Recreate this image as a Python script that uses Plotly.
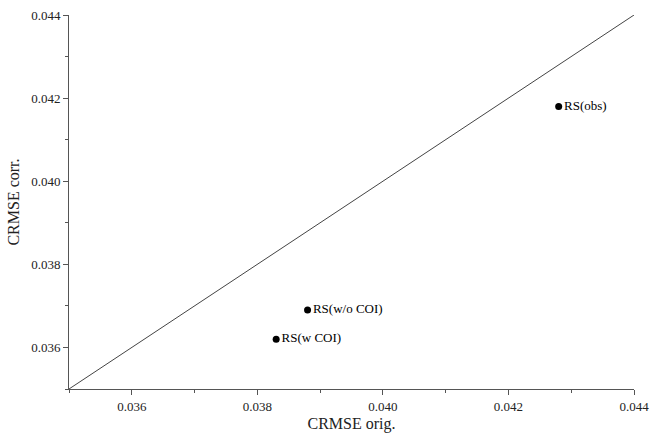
import plotly.graph_objects as go

# CRMSE of each run: original vs corrected
names = ["RS(obs)", "RS(w/o COI)", "RS(w COI)"]
crmse_orig = [0.0428, 0.0388, 0.0383]
crmse_corr = [0.0418, 0.0369, 0.0362]

# 1:1 reference line spanning the axis range
ref_line = [0.035, 0.044]
tick_vals = [0.036, 0.038, 0.040, 0.042, 0.044]
tick_text = ["0.036", "0.038", "0.040", "0.042", "0.044"]

font_family = "Liberation Serif, Times New Roman, serif"

fig = go.Figure()
fig.add_trace(go.Scatter(
    x=ref_line, y=ref_line, mode="lines",
    line=dict(color="#444444", width=1), hoverinfo="skip", showlegend=False,
))
fig.add_trace(go.Scatter(
    x=crmse_orig, y=crmse_corr, mode="markers+text",
    marker=dict(color="black", size=7),
    text=names, textposition="middle right",
    textfont=dict(family=font_family, size=13, color="black"),
    showlegend=False,
))

axis_common = dict(
    range=[0.035, 0.044],
    tickvals=tick_vals, ticktext=tick_text,
    ticks="outside", ticklen=5, tickwidth=1, tickcolor="#555555",
    showline=True, linecolor="#555555", linewidth=1,
    showgrid=False, zeroline=False, automargin=False,
    tickfont=dict(family=font_family, size=13, color="#222222"),
    minor=dict(ticks="outside", ticklen=3, tickcolor="#555555", dtick=0.001, tick0=0.035),
)

fig.update_layout(
    width=650, height=437,
    margin=dict(l=69, r=16, t=15, b=48),
    font=dict(family=font_family, color="#222222"),
    paper_bgcolor="white", plot_bgcolor="white",
    xaxis=dict(axis_common, title=dict(text="CRMSE orig.", font=dict(family=font_family, size=16, color="#222222"), standoff=5)),
    yaxis=dict(axis_common, title=dict(text="CRMSE corr.", font=dict(family=font_family, size=16, color="#222222"), standoff=7)),
)

fig.write_html("out.html")
